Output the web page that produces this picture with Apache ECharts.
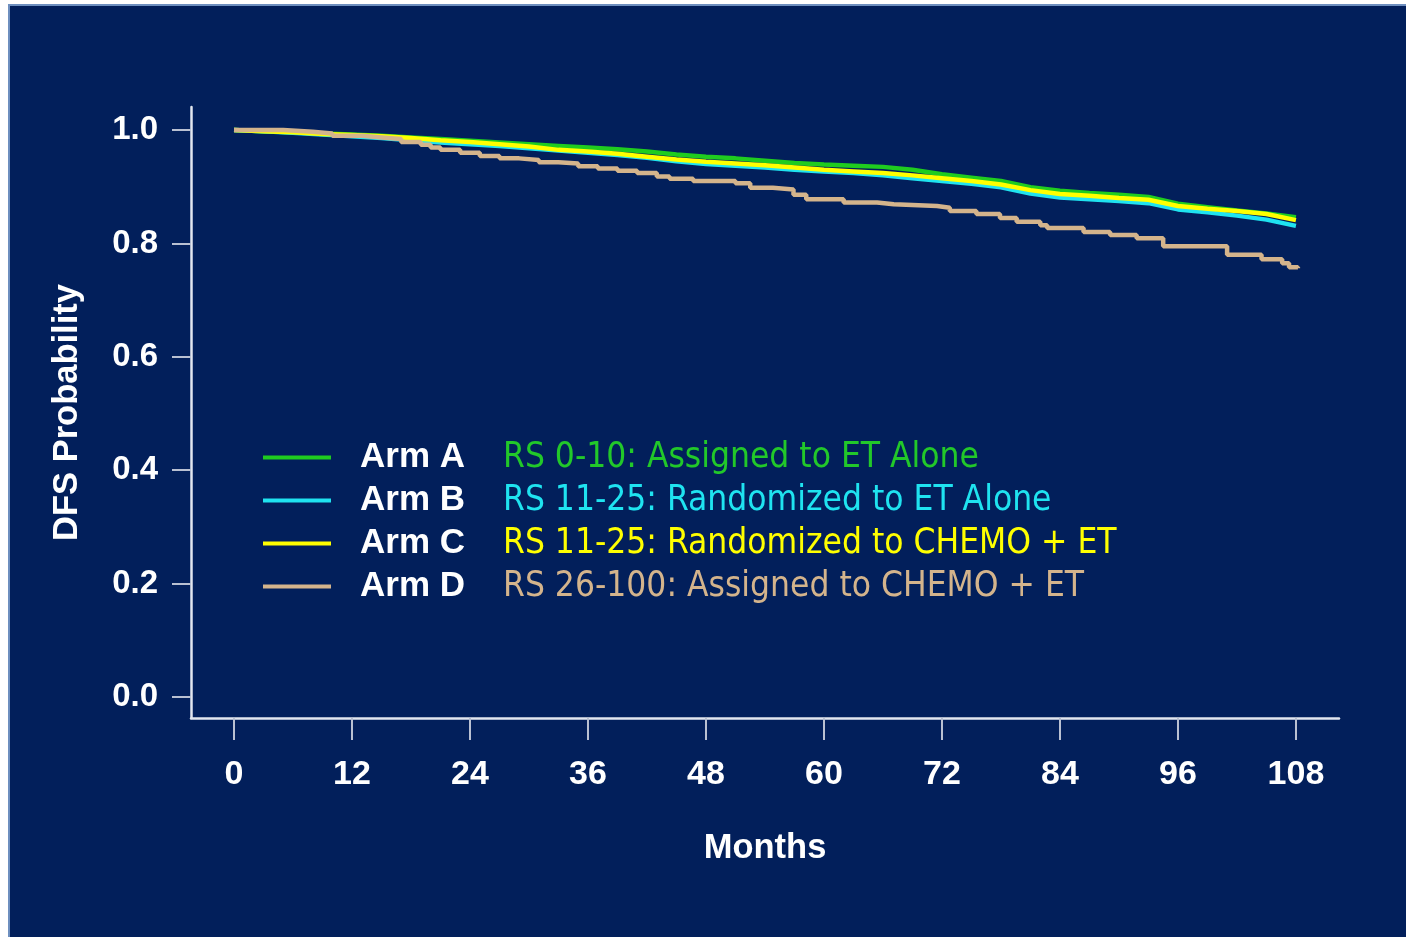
<!DOCTYPE html>
<html>
<head>
<meta charset="utf-8">
<script src="https://cdn.jsdelivr.net/npm/echarts@6/dist/echarts.min.js"></script>
<style>
  html, body { margin: 0; padding: 0; background: #ffffff; width: 1406px; height: 937px; overflow: hidden; }
  #panel { position: absolute; left: 8px; top: 4px; width: 1398px; height: 933px; background: #021f5b;
           border-left: 2px solid #6e8fbf; border-top: 2px solid #6e8fbf; box-sizing: border-box; }
  #chart { position: absolute; left: 0; top: 0; width: 1406px; height: 937px; }
</style>
</head>
<body>
<div id="panel"></div>
<div id="chart"></div>
<script>
// ---- data ----
const xTicks = [0, 12, 24, 36, 48, 60, 72, 84, 96, 108];
const yTicks = [0, 0.2, 0.4, 0.6, 0.8, 1.0];

const armNames = ['Arm A', 'Arm B', 'Arm C', 'Arm D'];
const armDescriptions = [
  'RS 0-10: Assigned to ET Alone',
  'RS 11-25: Randomized to ET Alone',
  'RS 11-25: Randomized to CHEMO + ET',
  'RS 26-100: Assigned to CHEMO + ET'
];

const abcMonths = [0, 3, 6, 9, 12, 15, 18, 21, 24, 27, 30, 33, 36, 39, 42, 45, 48, 51, 54, 57, 60,
                   63, 66, 69, 72, 75, 78, 81, 84, 87, 90, 93, 96, 99, 102, 105, 108];
const armA = [1.000, 0.998, 0.996, 0.994, 0.992, 0.990, 0.987, 0.984, 0.981, 0.978, 0.975, 0.972, 0.969,
              0.966, 0.962, 0.957, 0.953, 0.950, 0.946, 0.942, 0.939, 0.937, 0.935, 0.930, 0.922, 0.916,
              0.910, 0.899, 0.893, 0.889, 0.886, 0.882, 0.870, 0.864, 0.858, 0.853, 0.846];
const armB = [1.000, 0.998, 0.995, 0.992, 0.989, 0.986, 0.982, 0.978, 0.975, 0.972, 0.968, 0.964, 0.960,
              0.956, 0.951, 0.945, 0.940, 0.937, 0.934, 0.930, 0.927, 0.924, 0.920, 0.915, 0.910, 0.905,
              0.899, 0.888, 0.881, 0.878, 0.875, 0.871, 0.860, 0.855, 0.849, 0.842, 0.831];
const armC = [1.000, 0.998, 0.996, 0.993, 0.991, 0.989, 0.986, 0.982, 0.979, 0.975, 0.971, 0.965, 0.962,
              0.958, 0.953, 0.948, 0.944, 0.941, 0.938, 0.934, 0.930, 0.927, 0.924, 0.920, 0.915, 0.910,
              0.904, 0.894, 0.887, 0.884, 0.880, 0.877, 0.866, 0.861, 0.857, 0.852, 0.841];

const armDMonths = [0, 5, 8, 10, 13, 15, 17, 19, 20, 21, 23, 25, 27, 29, 31, 33, 35, 37, 39, 41, 43,
                    44.3, 46.7, 51, 52.5, 54.8, 56.9, 58.2, 62, 65.4, 67.1, 71.5, 72.8, 75.5, 77.9,
                    79.6, 82, 82.7, 86.4, 89.1, 91.8, 94.5, 101, 104.5, 106.6, 107.3, 108.2];
const armD = [1.000, 0.997, 0.994, 0.990, 0.987, 0.984, 0.979, 0.974, 0.969, 0.965, 0.960, 0.954, 0.950,
              0.947, 0.943, 0.941, 0.936, 0.932, 0.928, 0.924, 0.918, 0.914, 0.910, 0.906, 0.898, 0.895,
              0.886, 0.878, 0.872, 0.869, 0.866, 0.863, 0.857, 0.852, 0.845, 0.838, 0.832, 0.827, 0.820,
              0.815, 0.809, 0.795, 0.780, 0.772, 0.765, 0.758, 0.756];

const armColors = ['#1fcc1f', '#1fe3f0', '#ffff00', '#d4b48c'];
const descColors = ['#22c82a', '#1fe3f0', '#ffff00', '#d4b48c'];

// ---- build ----
function zip(xs, ys) { return xs.map((x, i) => [x, ys[i]]); }
const seriesData = [zip(abcMonths, armA), zip(abcMonths, armB), zip(abcMonths, armC), zip(armDMonths, armD)];

const chart = echarts.init(document.getElementById('chart'), null, { renderer: 'canvas' });
const axisFont = '"Liberation Sans", Arial, sans-serif';

const rich = {
  a: { fontFamily: axisFont, fontWeight: 'bold', fontSize: 35, color: '#ffffff', width: 143,
       padding: [0, 0, 0, 24] }
};
descColors.forEach((c, i) => {
  rich['d' + i] = { fontFamily: '"DejaVu Sans Condensed", "DejaVu Sans", sans-serif', fontSize: 35,
                    color: c };
});

const option = {
  backgroundColor: 'transparent',
  animation: false,
  grid: { left: 191, right: 67, top: 107, bottom: 219, containLabel: false },
  xAxis: {
    type: 'value',
    min: -4.373, max: 112.38,
    name: 'Months',
    nameLocation: 'middle',
    nameGap: 113,
    nameTextStyle: { fontFamily: axisFont, fontWeight: 'bold', fontSize: 34.5, color: '#ffffff' },
    axisLine: { show: true, onZero: false, lineStyle: { color: '#e2e6ef', width: 2.5 } },
    axisTick: { show: true, inside: false, length: 22, customValues: xTicks,
                lineStyle: { color: '#b9c0d2', width: 2 } },
    axisLabel: { show: true, customValues: xTicks, margin: 40, fontFamily: axisFont, fontWeight: 'bold',
                 fontSize: 34, color: '#ffffff' },
    splitLine: { show: false }
  },
  yAxis: {
    type: 'value',
    min: -0.037, max: 1.0406,
    name: 'DFS Probability',
    nameLocation: 'middle',
    nameGap: 106,
    nameRotate: 90,
    nameTextStyle: { fontFamily: axisFont, fontWeight: 'bold', fontSize: 34.5, color: '#ffffff' },
    axisLine: { show: true, onZero: false, lineStyle: { color: '#e2e6ef', width: 2.5 } },
    axisTick: { show: true, inside: false, length: 19, customValues: yTicks,
                lineStyle: { color: '#b9c0d2', width: 2 } },
    axisLabel: { show: true, customValues: yTicks, margin: 33, fontFamily: axisFont, fontWeight: 'bold',
                 fontSize: 33, color: '#ffffff', padding: [5, 0, 0, 0], formatter: v => v.toFixed(1) },
    splitLine: { show: false }
  },
  legend: {
    show: true,
    orient: 'vertical',
    left: 263, top: 440,
    padding: 0,
    itemGap: 8,
    itemWidth: 68, itemHeight: 4,
    icon: 'rect',
    selectedMode: false,
    data: armNames,
    formatter: name => {
      const i = armNames.indexOf(name);
      return '{a|' + name + '}{d' + i + '|' + armDescriptions[i] + '}';
    },
    textStyle: { rich: rich }
  },
  series: armNames.map((n, i) => ({
    name: n,
    type: 'line',
    data: seriesData[i],
    step: i === 3 ? 'end' : false,
    showSymbol: false,
    symbol: 'none',
    color: armColors[i],
    lineStyle: { color: armColors[i], width: 4.5 },
    z: 2 + i
  }))
};
chart.setOption(option);
</script>
</body>
</html>
